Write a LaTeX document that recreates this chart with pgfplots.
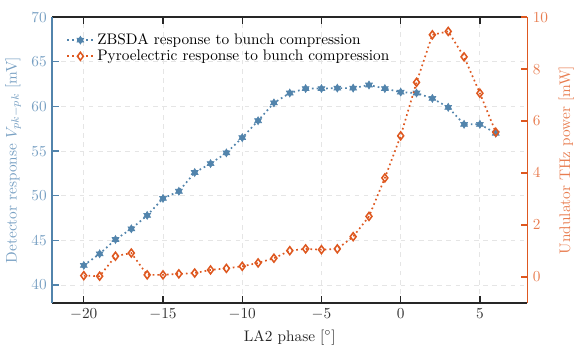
\documentclass[border=0pt]{standalone}
\usepackage{pgfplots}
\pgfplotsset{compat=1.18}
\definecolor{zb}{RGB}{82,132,172}
\definecolor{zbl}{RGB}{120,160,195}
\definecolor{py}{RGB}{222,88,32}
\definecolor{pyl}{RGB}{232,125,80}
\pgfdeclareplotmark{hexagram}{%
  \pgfpathmoveto{\pgfqpointpolar{90}{\pgfplotmarksize}}%
  \pgfpathlineto{\pgfqpointpolar{210}{\pgfplotmarksize}}%
  \pgfpathlineto{\pgfqpointpolar{330}{\pgfplotmarksize}}%
  \pgfpathclose
  \pgfpathmoveto{\pgfqpointpolar{270}{\pgfplotmarksize}}%
  \pgfpathlineto{\pgfqpointpolar{30}{\pgfplotmarksize}}%
  \pgfpathlineto{\pgfqpointpolar{150}{\pgfplotmarksize}}%
  \pgfpathclose
  \pgfusepathqfillstroke
}
\begin{document}
\begin{tikzpicture}
\begin{axis}[
  name=ax,
  scale only axis, width=311pt, height=187pt,
  xmin=-22, xmax=8, ymin=38, ymax=70,
  axis x line*=box, axis y line*=left,
  tick align=inside,
  x axis line style={line width=1.2pt, black!85},
  y axis line style={line width=1.2pt, zb},
  xtick={-20,-15,...,5}, ytick={40,45,...,70},
  major tick style={line width=0.9pt},
  x tick style={black!85}, y tick style={zb},
  yticklabel style={zbl}, xticklabel style={black!80},
  grid=major, grid style={dashed, black!10, line width=0.6pt},
  xlabel={LA2 phase [$^\circ$]},
  ylabel={Detector response $V_{pk-pk}$ [mV]},
  ylabel style={zbl},
  xlabel style={black!85},
  legend style={at={(0.02,0.965)}, anchor=north west, draw=none, fill=none, font=\normalsize, row sep=-2pt},
  legend cell align=left,
]
\addplot[zb, dotted, line width=1.1pt, mark=hexagram, mark size=2.6pt, mark options={solid, fill=zb, line width=0.4pt}] coordinates {
(-20,42.2) (-19,43.5) (-18,45.1) (-17,46.3) (-16,47.8) (-15,49.7) (-14,50.5)
(-13,52.6) (-12,53.6) (-11,54.8) (-10,56.5) (-9,58.4) (-8,60.4) (-7,61.5)
(-6,62.0) (-5,62.0) (-4,62.05) (-3,62.05) (-2,62.4) (-1,62.0) (0,61.6)
(1,61.5) (2,60.9) (3,59.9) (4,58.0) (5,58.0) (6,57.0)
};
\addlegendentry{ZBSDA response to bunch compression}
\addlegendimage{py, dotted, line width=1.1pt, mark=diamond, mark size=2.6pt, mark options={solid, fill=white, line width=1pt}}
\addlegendentry{Pyroelectric response to bunch compression}
\end{axis}
\begin{axis}[
  scale only axis, width=311pt, height=187pt,
  xmin=-22, xmax=8, ymin=-1, ymax=10,
  axis x line=none, axis y line*=right,
  tick align=inside,
  y axis line style={line width=1.2pt, py},
  ytick={0,2,...,10},
  major tick style={line width=0.9pt, py},
  yticklabel style={pyl},
  ylabel={Undulator THz power [mW]},
  ylabel style={pyl},
]
\addplot[py, dotted, line width=1.1pt, mark=diamond, mark size=2.6pt, mark options={solid, fill=white, line width=1pt}] coordinates {
(-20,0.05) (-19,0.03) (-18,0.80) (-17,0.92) (-16,0.08) (-15,0.08) (-14,0.12)
(-13,0.15) (-12,0.27) (-11,0.33) (-10,0.41) (-9,0.54) (-8,0.72) (-7,1.01)
(-6,1.08) (-5,1.05) (-4,1.08) (-3,1.55) (-2,2.33) (-1,3.81) (0,5.43)
(1,7.49) (2,9.32) (3,9.45) (4,8.47) (5,7.07) (6,5.57)
};
\end{axis}
\fill[white] ([yshift=11pt]ax.north west) circle (0.2pt);
\end{tikzpicture}
\end{document}
